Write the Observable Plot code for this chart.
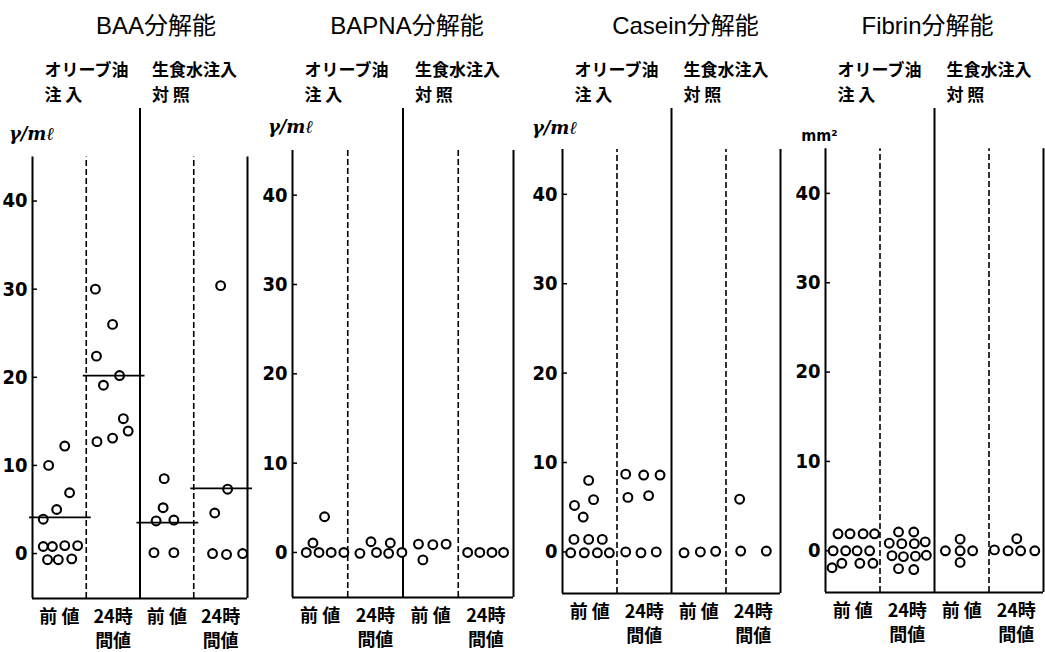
<!DOCTYPE html>
<html><head><meta charset="utf-8">
<script src="https://cdn.jsdelivr.net/npm/d3@7"></script>
<script src="https://cdn.jsdelivr.net/npm/@observablehq/plot@0.6"></script>
<style>
html,body{margin:0;padding:0;background:#fff;}
#fig{position:relative;width:1045px;height:652px;overflow:hidden;background:#fff;}
#fig .panel{position:absolute;top:0;}
#fig svg{overflow:visible;}
</style></head>
<body><div id="fig"></div>
<script>
// ---------- data ----------
const panelTitles = ["BAA分解能", "BAPNA分解能", "Casein分解能", "Fibrin分解能"];
const panelUnits = ["γ/mℓ", "γ/mℓ", "γ/mℓ", "mm²"];
const groupLabels = ["オリーブ油\n注 入", "生食水注入\n対 照"];
const periodLabels = ["前 値", "24時\n間値", "前 値", "24時\n間値"];
const yTicks = [0, 10, 20, 30, 40];

// each entry: [horizontal slot within the column (0-1), value]
const baaOilPre  = [[0.30,10.0],[0.60,12.2],[0.69,6.9],[0.45,5.0],[0.20,3.9],[0.20,0.8],[0.37,0.8],[0.60,0.9],[0.84,0.9],[0.28,-0.7],[0.48,-0.7],[0.73,-0.6]];
const baaOil24   = [[0.17,30.0],[0.49,26.0],[0.19,22.4],[0.62,20.2],[0.32,19.1],[0.20,12.7],[0.49,13.1],[0.69,15.3],[0.78,13.9]];
const baaSalPre  = [[0.45,8.5],[0.43,5.2],[0.30,3.7],[0.63,3.8],[0.26,0.1],[0.63,0.1]];
const baaSal24   = [[0.50,30.4],[0.63,7.3],[0.39,4.6],[0.35,0.0],[0.61,-0.1],[0.91,0.0]];
const baaMeans   = [4.1, 20.2, 3.5, 7.4];

const bapnaOilPre = [[0.58,4.0],[0.37,1.06],[0.25,0.0],[0.48,0.0],[0.70,0.0],[0.93,0.0]];
const bapnaOil24  = [[0.22,-0.1],[0.42,1.2],[0.52,0.0],[0.74,-0.1],[0.77,1.06],[0.98,0.0]];
const bapnaSalPre = [[0.28,0.94],[0.36,-0.83],[0.54,0.87],[0.78,0.94]];
const bapnaSal24  = [[0.17,0.0],[0.39,0.0],[0.61,0.0],[0.82,0.0]];

const caseinOilPre = [[0.48,8.0],[0.22,5.2],[0.57,5.85],[0.38,3.9],[0.21,1.4],[0.48,1.4],[0.73,1.4],[0.15,-0.1],[0.40,-0.1],[0.64,-0.1],[0.86,-0.1]];
const caseinOil24  = [[0.16,8.7],[0.49,8.6],[0.79,8.6],[0.20,6.1],[0.58,6.3],[0.16,0.0],[0.44,-0.1],[0.72,0.0]];
const caseinSalPre = [[0.23,-0.1],[0.53,0.0],[0.81,0.07]];
const caseinSal24  = [[0.25,5.9],[0.27,0.1],[0.74,0.1]];

const fibrinOilPre = [[0.23,1.9],[0.45,1.9],[0.69,1.9],[0.90,1.9],[0.14,0.0],[0.37,0.0],[0.58,0.0],[0.81,0.0],[0.30,-1.4],[0.63,-1.4],[0.87,-1.4],[0.12,-1.9]];
const fibrinOil24  = [[0.34,2.1],[0.62,2.1],[0.17,0.85],[0.40,0.8],[0.63,0.8],[0.83,1.0],[0.22,-0.55],[0.43,-0.65],[0.65,-0.6],[0.85,-0.5],[0.34,-2.0],[0.62,-2.1]];
const fibrinSalPre = [[0.20,0.0],[0.47,1.3],[0.47,0.0],[0.47,-1.3],[0.70,0.0]];
const fibrinSal24  = [[0.10,0.1],[0.35,0.0],[0.51,1.35],[0.58,0.0],[0.84,0.0]];

const panels = [
  {title: panelTitles[0], unit: panelUnits[0], groups: [baaOilPre, baaOil24, baaSalPre, baaSal24], means: baaMeans},
  {title: panelTitles[1], unit: panelUnits[1], groups: [bapnaOilPre, bapnaOil24, bapnaSalPre, bapnaSal24], means: null},
  {title: panelTitles[2], unit: panelUnits[2], groups: [caseinOilPre, caseinOil24, caseinSalPre, caseinSal24], means: null},
  {title: panelTitles[3], unit: panelUnits[3], groups: [fibrinOilPre, fibrinOil24, fibrinSalPre, fibrinSal24], means: null}
];

// ---------- layout ----------
const axisTop = 45;
const layout = [
  {left: 0,   width: 255, mr: 8, mb: 54, domain: [-5.1, 50.5],  titleDx: 16, unitDx: -1, unitDy: 26},
  {left: 260, width: 261, mr: 8, mb: 55, domain: [-5.04, 49.7], titleDx: 4,  unitDx: -2, unitDy: 19},
  {left: 530, width: 258, mr: 8, mb: 59, domain: [-4.65, 49.6], titleDx: 14, unitDx: -8, unitDy: 20},
  {left: 793, width: 252, mr: 2, mb: 60, domain: [-4.67, 49.5], titleDx: -7, unitDx: -6, unitDy: 27}
];
const cjk = "'Noto Sans CJK JP', 'Noto Sans', sans-serif";
const numFont = "'DejaVu Sans Condensed', 'Liberation Sans Narrow', 'DejaVu Sans', sans-serif";

function makePanel(p, L) {
  const [ymin, ytop] = L.domain;
  const dots = p.groups.flatMap((g, gi) => g.map(([slot, value]) => ({pos: gi + slot, value})));
  const isMM = p.unit === "mm²";
  const marks = [
    Plot.ruleX([0], {y1: ymin, y2: axisTop, stroke: "#000", strokeWidth: 2}),
    Plot.ruleX([1, 3], {y1: ymin, y2: axisTop, stroke: "#000", strokeWidth: 1.6, strokeDasharray: "6,3"}),
    Plot.ruleX([2], {y1: ymin, y2: ytop, stroke: "#000", strokeWidth: 2}),
    Plot.ruleX([4], {y1: ymin, y2: axisTop, stroke: "#000", strokeWidth: 2}),
    Plot.ruleY([ymin], {x1: 0, x2: 4, stroke: "#000", strokeWidth: 2.2}),
    Plot.ruleY(yTicks, {x1: 0, x2: 0, insetRight: -5, stroke: "#000", strokeWidth: 1.5}),
    Plot.axisY({ticks: yTicks, tickSize: 0, tickPadding: 5, label: null, fontSize: 20, fontWeight: "bold", fontFamily: numFont, fill: "#000"}),
    Plot.text(periodLabels, {x: (d, i) => i + 0.5, text: d => d, frameAnchor: "bottom", lineAnchor: "top", dy: 8, lineHeight: 1.32, fontSize: 18, fontWeight: "bold", fontFamily: cjk, fill: "#000"}),
    Plot.text(groupLabels, {x: (d, i) => i * 2, text: d => d, frameAnchor: "top", textAnchor: "start", lineAnchor: "top", dx: 12, dy: -50, lineHeight: 1.47, fontSize: 17, fontWeight: "bold", fontFamily: cjk, fill: "#000"}),
    Plot.text([p.title], {x: 2, text: d => d, frameAnchor: "top", lineAnchor: "middle", dx: L.titleDx, dy: -82, fontSize: 24, fontFamily: "'Liberation Sans', " + cjk, fill: "#000"}),
    Plot.text([p.unit], {x: 0, text: d => d, frameAnchor: "top", lineAnchor: "middle", dx: L.unitDx, dy: L.unitDy, fontSize: isMM ? 16 : 18, fontStyle: isMM ? "normal" : "italic", fontWeight: "bold", fontFamily: isMM ? numFont : "'DejaVu Serif', serif", fill: "#000"}),
    Plot.dot(dots, {x: "pos", y: "value", r: 4.4, stroke: "#000", strokeWidth: 2.1, fill: "#fff"})
  ];
  if (p.means) {
    marks.push(Plot.ruleY(p.means, {y: d => d, x1: (d, i) => i, x2: (d, i) => i + 1, insetLeft: -3, insetRight: -5, stroke: "#000", strokeWidth: 1.8}));
  }
  return Plot.plot({
    width: L.width, height: 652,
    marginLeft: 32, marginRight: L.mr, marginTop: 108, marginBottom: L.mb,
    x: {domain: [0, 4], axis: null},
    y: {domain: [ymin, ytop], axis: null},
    style: {background: "transparent", color: "#000", fontFamily: cjk},
    marks
  });
}

const fig = document.getElementById("fig");
panels.forEach((p, i) => {
  const div = document.createElement("div");
  div.className = "panel";
  div.style.left = layout[i].left + "px";
  div.appendChild(makePanel(p, layout[i]));
  fig.appendChild(div);
});
</script>
</body></html>
